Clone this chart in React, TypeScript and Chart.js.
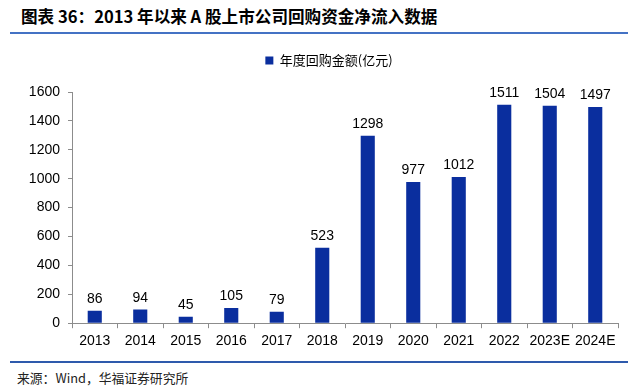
import React, { useEffect, useRef } from "react";
import { Chart, registerables } from "chart.js";

Chart.register(...registerables);

const categories = ["2013", "2014", "2015", "2016", "2017", "2018", "2019", "2020", "2021", "2022", "2023E", "2024E"];
const buybackValues = [86, 94, 45, 105, 79, 523, 1298, 977, 1012, 1511, 1504, 1497];
const seriesName = "年度回购金额(亿元)";
const yTicks = [0, 200, 400, 600, 800, 1000, 1200, 1400, 1600];
const titleText = "图表 36：2013 年以来 A 股上市公司回购资金净流入数据";
const sourceText = "来源：Wind，华福证券研究所";

const BAR_COLOR = "#0A2E9E";
const AXIS_COLOR = "#8c8c8c";
const NUM_FONT = "'Liberation Sans', Arial, sans-serif";
const CJK_FONT = "'Noto Sans CJK SC', sans-serif";

const valueLabels = {
  id: "valueLabels",
  afterDatasetsDraw(chart: any) {
    const ctx = chart.ctx;
    const meta = chart.getDatasetMeta(0);
    const data = chart.data.datasets[0].data;
    ctx.save();
    ctx.font = `14px ${NUM_FONT}`;
    ctx.fillStyle = "#000";
    ctx.textAlign = "center";
    ctx.textBaseline = "alphabetic";
    meta.data.forEach((el: any, i: number) => {
      ctx.fillText(String(data[i]), el.x, el.y - 8);
    });
    ctx.restore();
  },
};

const legendShift = {
  id: "legendShift",
  afterLayout(chart: any) {
    if (chart.legend) {
      chart.legend.left += 7;
      chart.legend.right += 7;
    }
  },
};

export default function App() {
  const ref = useRef<HTMLCanvasElement | null>(null);

  useEffect(() => {
    if (!ref.current) return;
    const chart = new Chart(ref.current, {
      type: "bar",
      data: {
        labels: categories,
        datasets: [
          {
            label: seriesName,
            data: buybackValues,
            backgroundColor: BAR_COLOR,
            borderWidth: 0,
            barPercentage: 0.31,
            categoryPercentage: 1,
          },
        ],
      },
      options: {
        responsive: false,
        animation: false,
        layout: { padding: { left: 26, right: 17, top: 4, bottom: 0 } },
        plugins: {
          legend: {
            display: true,
            position: "top",
            labels: {
              boxWidth: 8,
              boxHeight: 8,
              padding: 10,
              color: "#000",
              font: { family: CJK_FONT, size: 13 },
            },
          },
          title: {
            display: true,
            text: "",
            weight: 500,
            font: { size: 1, lineHeight: 1 },
            padding: { top: 0, bottom: 14 },
          } as any,
          tooltip: { enabled: false },
        },
        scales: {
          x: {
            grid: {
              display: true,
              drawOnChartArea: false,
              drawTicks: true,
              tickLength: 5,
              color: AXIS_COLOR,
            },
            border: { display: true, color: AXIS_COLOR },
            ticks: {
              color: "#000",
              padding: 5,
              maxRotation: 0,
              autoSkip: false,
              font: { family: NUM_FONT, size: 14 },
            },
          },
          y: {
            min: 0,
            max: 1600,
            afterBuildTicks: (scale: any) => {
              scale.ticks = yTicks.map((v) => ({ value: v }));
            },
            afterFit: (scale: any) => {
              scale.width = 46;
            },
            grid: {
              display: true,
              drawOnChartArea: false,
              drawTicks: true,
              tickLength: 4,
              color: AXIS_COLOR,
            },
            border: { display: true, color: AXIS_COLOR },
            ticks: {
              color: "#000",
              padding: 8,
              font: { family: NUM_FONT, size: 14 },
              callback: (value: any) => String(value),
            },
          },
        },
      },
      plugins: [valueLabels, legendShift],
    });
    return () => chart.destroy();
  }, []);

  return (
    <div style={{ position: "fixed", left: 0, top: 0, width: 635, height: 387, background: "#fff", overflow: "hidden" }}>
      <div
        style={{
          position: "absolute",
          left: 21,
          top: 5,
          fontFamily: CJK_FONT,
          fontWeight: 700,
          fontSize: 16.6,
          lineHeight: "22px",
          color: "#000",
          whiteSpace: "nowrap",
        }}
      >
        {titleText}
      </div>
      <div style={{ position: "absolute", left: 10, top: 32, width: 618, height: 2, background: "#4472C4" }} />
      <canvas ref={ref} width={635} height={315} style={{ position: "absolute", left: 0, top: 40, width: 635, height: 315 }} />
      <div style={{ position: "absolute", left: 10, top: 361, width: 618, height: 2, background: "#2E5AAC" }} />
      <div
        style={{
          position: "absolute",
          left: 17,
          top: 370,
          fontFamily: CJK_FONT,
          fontSize: 12.8,
          lineHeight: "16px",
          color: "#222",
          whiteSpace: "nowrap",
        }}
      >
        {sourceText}
      </div>
    </div>
  );
}
